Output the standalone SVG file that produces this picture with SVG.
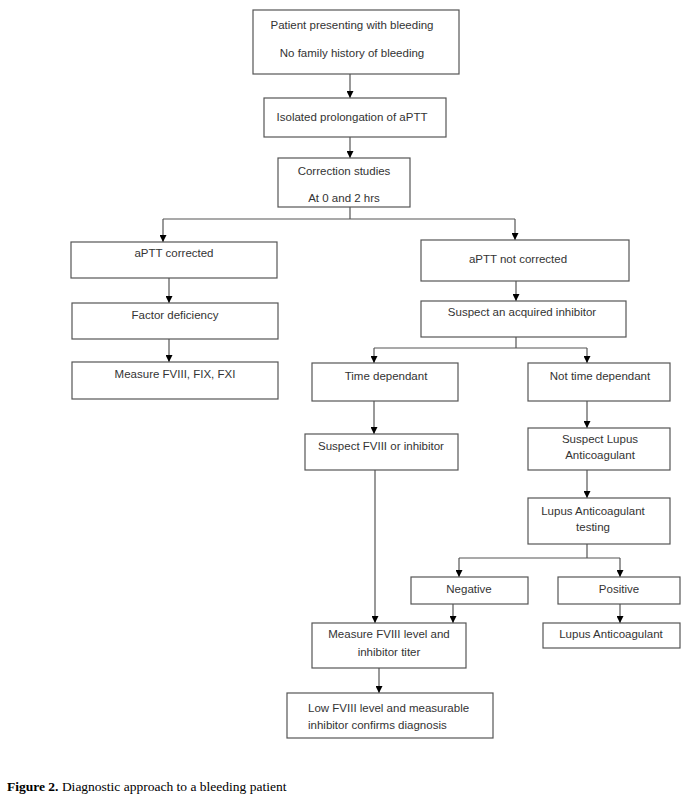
<svg xmlns="http://www.w3.org/2000/svg" width="690" height="802" viewBox="0 0 690 802">
<defs>
<style>
.b{fill:#fff;stroke:#555;stroke-width:1.2}
.t{font-family:"Liberation Sans",Arial,sans-serif;font-size:11.5px;fill:#333;text-anchor:middle}
.tl{font-family:"Liberation Sans",Arial,sans-serif;font-size:11.5px;fill:#333}
.c{fill:none;stroke:#555;stroke-width:1.2}
.cap{font-family:"Liberation Serif","Times New Roman",serif;font-size:13.5px;fill:#000}
</style>
<marker id="ah" viewBox="0 0 8 8" refX="8" refY="4" markerWidth="7" markerHeight="7" markerUnits="userSpaceOnUse" orient="auto">
<path d="M0,0 L8,4 L0,8 Z" fill="#000"/>
</marker>
</defs>
<rect width="690" height="802" fill="#fff"/>
<g id="connectors">
<path class="c" d="M350,74 V98" marker-end="url(#ah)"/>
<path class="c" d="M350,137 V158" marker-end="url(#ah)"/>
<path class="c" d="M350,207 V219 M163,219 H515"/>
<path class="c" d="M163,219 V242" marker-end="url(#ah)"/>
<path class="c" d="M515,219 V240" marker-end="url(#ah)"/>
<path class="c" d="M169,278 V303" marker-end="url(#ah)"/>
<path class="c" d="M169,339 V362" marker-end="url(#ah)"/>
<path class="c" d="M516,281 V301" marker-end="url(#ah)"/>
<path class="c" d="M516,337 V348 M374,348 H587"/>
<path class="c" d="M374,348 V363" marker-end="url(#ah)"/>
<path class="c" d="M587,348 V363" marker-end="url(#ah)"/>
<path class="c" d="M374,401 V434" marker-end="url(#ah)"/>
<path class="c" d="M587,401 V428" marker-end="url(#ah)"/>
<path class="c" d="M375,470 V623" marker-end="url(#ah)"/>
<path class="c" d="M587,470 V498" marker-end="url(#ah)"/>
<path class="c" d="M587,544 V558 M459,558 H620"/>
<path class="c" d="M459,558 V577" marker-end="url(#ah)"/>
<path class="c" d="M620,558 V577" marker-end="url(#ah)"/>
<path class="c" d="M453,604 V623" marker-end="url(#ah)"/>
<path class="c" d="M620,604 V623" marker-end="url(#ah)"/>
<path class="c" d="M379,668 V693" marker-end="url(#ah)"/>
</g>
<g id="n1"><rect class="b" x="253" y="10" width="206" height="64"/><text class="t" x="352" y="29">Patient presenting with bleeding</text><text class="t" x="352" y="57">No family history of bleeding</text></g>
<g id="n2"><rect class="b" x="264" y="98" width="182" height="39"/><text class="t" x="352" y="121">Isolated prolongation of aPTT</text></g>
<g id="n3"><rect class="b" x="278" y="158" width="132" height="49"/><text class="t" x="344" y="175">Correction studies</text><text class="t" x="344" y="202">At 0 and 2 hrs</text></g>
<g id="n4"><rect class="b" x="71" y="242" width="206" height="36"/><text class="t" x="174" y="257">aPTT corrected</text></g>
<g id="n5"><rect class="b" x="421" y="240" width="208" height="41"/><text class="t" x="518" y="263">aPTT not corrected</text></g>
<g id="n6"><rect class="b" x="72" y="303" width="206" height="36"/><text class="t" x="175" y="319">Factor deficiency</text></g>
<g id="n7"><rect class="b" x="72" y="362" width="206" height="37"/><text class="t" x="175" y="378">Measure FVIII, FIX, FXI</text></g>
<g id="n8"><rect class="b" x="421" y="301" width="205" height="36"/><text class="t" x="522" y="316">Suspect an acquired inhibitor</text></g>
<g id="n9"><rect class="b" x="312" y="363" width="146" height="38"/><text class="t" x="386" y="380">Time dependant</text></g>
<g id="n10"><rect class="b" x="528" y="363" width="142" height="38"/><text class="t" x="600" y="380">Not time dependant</text></g>
<g id="n11"><rect class="b" x="305" y="434" width="153" height="36"/><text class="t" x="381" y="450">Suspect FVIII or inhibitor</text></g>
<g id="n12"><rect class="b" x="528" y="428" width="142" height="42"/><text class="t" x="600" y="443">Suspect Lupus</text><text class="t" x="600" y="459">Anticoagulant</text></g>
<g id="n13"><rect class="b" x="528" y="498" width="142" height="46"/><text class="t" x="593" y="515">Lupus Anticoagulant</text><text class="t" x="593" y="531">testing</text></g>
<g id="n14"><rect class="b" x="411" y="577" width="117" height="27"/><text class="t" x="469" y="593">Negative</text></g>
<g id="n15"><rect class="b" x="558" y="577" width="122" height="27"/><text class="t" x="619" y="593">Positive</text></g>
<g id="n16"><rect class="b" x="312" y="623" width="154" height="45"/><text class="t" x="389" y="638">Measure FVIII level and</text><text class="t" x="389" y="656">inhibitor titer</text></g>
<g id="n17"><rect class="b" x="543" y="623" width="137" height="25"/><text class="t" x="611" y="638">Lupus Anticoagulant</text></g>
<g id="n18"><rect class="b" x="287" y="693" width="206" height="45"/><text class="tl" x="308" y="712">Low FVIII level and measurable</text><text class="tl" x="308" y="729">inhibitor confirms diagnosis</text></g>
<text class="cap" x="7" y="791"><tspan font-weight="bold">Figure 2.</tspan> Diagnostic approach to a bleeding patient</text>
</svg>
